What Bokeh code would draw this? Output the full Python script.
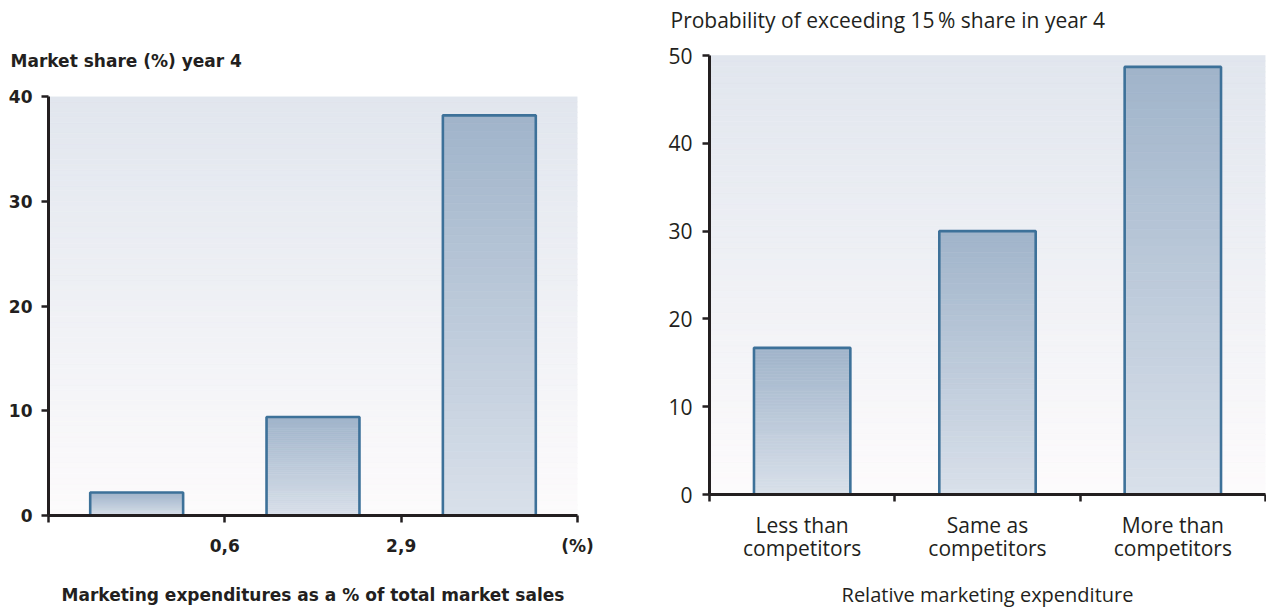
import numpy as np
from bokeh.plotting import figure
from bokeh.layouts import row, column
from bokeh.models import FixedTicker, Range1d
from bokeh.embed import file_html
from bokeh.resources import INLINE

# ---------------- data ----------------
left_tick_positions = [0, 1, 2, 3]
left_tick_labels = ["", "0,6", "2,9", "(%)"]
left_values = [2.2, 9.4, 38.2]
left_yticks = [0, 10, 20, 30, 40]

right_categories = ["Less than\ncompetitors", "Same as\ncompetitors", "More than\ncompetitors"]
right_values = [16.7, 30.0, 48.7]
right_yticks = [0, 10, 20, 30, 40, 50]

left_ylabel = "Market share (%) year 4"
left_xlabel = "Marketing expenditures as a % of total market sales"
right_ylabel = "Probability of exceeding 15\u2009% share in year 4"
right_xlabel = "Relative marketing expenditure"

# ---------------- style ----------------
INK = "#231f20"
BG_TOP, BG_BOT = "#e1e6ee", "#fdfbfc"
BAR_TOP, BAR_BOT = "#a0b4ca", "#d9e0ea"
BAR_LINE = "#3d7199"


def hex2rgb(h):
    h = h.lstrip("#")
    return np.array([int(h[i:i + 2], 16) for i in (0, 2, 4)], dtype=float)


def lerp(c_bot, c_top, t):
    a, b = hex2rgb(c_bot), hex2rgb(c_top)
    c = a + (b - a) * t
    return "#%02x%02x%02x" % tuple(int(round(v)) for v in c)


def gradient(p, x0, x1, y0, y1, c_top, c_bot, n=60):
    edges = np.linspace(y0, y1, n + 1)
    cols = [lerp(c_bot, c_top, (i + 0.5) / n) for i in range(n)]
    p.quad(left=[x0] * n, right=[x1] * n, bottom=edges[:-1], top=edges[1:],
           fill_color=cols, line_color=cols, line_width=0.6)


def bars(p, centers, values, width):
    for c, v in zip(centers, values):
        gradient(p, c - width / 2, c + width / 2, 0, v, BAR_TOP, BAR_BOT, n=50)
    p.vbar(x=centers, top=values, width=width, bottom=0, fill_alpha=0,
           line_color=BAR_LINE, line_width=2.6)


def style_axes(p, font, size, fstyle):
    for ax in (p.xaxis[0], p.yaxis[0]):
        ax.axis_line_color = INK
        ax.axis_line_width = 3
        ax.major_tick_line_color = INK
        ax.major_tick_line_width = 2.5
        ax.major_tick_out = 7
        ax.major_tick_in = 0
        ax.minor_tick_line_color = None
        ax.major_label_text_font = font
        ax.major_label_text_font_size = size
        ax.major_label_text_font_style = fstyle
        ax.major_label_text_color = INK
        ax.axis_label_text_font = font
        ax.axis_label_text_font_size = size
        ax.axis_label_text_font_style = fstyle
        ax.axis_label_text_color = INK
    p.xgrid.visible = False
    p.ygrid.visible = False
    p.outline_line_color = None
    p.background_fill_color = "white"
    p.border_fill_color = "white"
    p.title.text_font = font
    p.title.text_font_style = fstyle
    p.title.text_color = INK
    p.title.align = "left"


# ---------------- left chart ----------------
LF = "DejaVu Sans"
pl = figure(width=640, height=612, output_backend="svg", toolbar_location=None,
            x_range=Range1d(0, 3), y_range=Range1d(0, 40), title=left_ylabel,
            min_border_left=48, min_border_right=63, min_border_top=96, min_border_bottom=97)
style_axes(pl, LF, "17px", "bold")
pl.title.text_font_size = "17px"
pl.title.offset = -38
pl.title.standoff = 52
gradient(pl, 0, 3, 0, 40, BG_TOP, BG_BOT, n=80)
bars(pl, [0.5, 1.5, 2.5], left_values, 0.527)
pl.xaxis[0].ticker = FixedTicker(ticks=left_tick_positions)
pl.xaxis[0].major_label_overrides = {t: l for t, l in zip(left_tick_positions, left_tick_labels)}
pl.xaxis[0].major_label_standoff = 13
pl.xaxis[0].axis_label = left_xlabel
pl.xaxis[0].axis_label_standoff = 26
pl.yaxis[0].ticker = FixedTicker(ticks=left_yticks)
pl.yaxis[0].major_label_standoff = 9

# ---------------- right chart ----------------
RF = "Open Sans"
R_TOP = 50
# frame starts a little above the plotted area so the title can sit high;
# the axis line and background stop at R_TOP
frame_top, plot_top, frame_bottom = 36, 55, 494
r_end = R_TOP * (frame_bottom - frame_top) / (frame_bottom - plot_top)
pr = figure(width=626, height=612, output_backend="svg", toolbar_location=None,
            x_range=Range1d(0, 3), y_range=Range1d(0, r_end), title=right_ylabel,
            min_border_left=69, min_border_right=1, min_border_top=frame_top,
            min_border_bottom=612 - frame_bottom)
style_axes(pr, RF, "21px", "normal")
pr.title.text_font_size = "21px"
pr.title.offset = -39
pr.title.standoff = 6
gradient(pr, 0, 3, 0, R_TOP, BG_TOP, BG_BOT, n=80)
bars(pr, [0.5, 1.5, 2.5], right_values, 0.52)
pr.xaxis[0].ticker = FixedTicker(ticks=[0.5, 1.5, 2.5], minor_ticks=[0, 1, 2, 3])
pr.xaxis[0].major_label_overrides = {0.5: right_categories[0], 1.5: right_categories[1],
                                     2.5: right_categories[2]}
pr.xaxis[0].major_tick_line_color = None
pr.xaxis[0].minor_tick_line_color = INK
pr.xaxis[0].minor_tick_line_width = 2.5
pr.xaxis[0].minor_tick_out = 7
pr.xaxis[0].minor_tick_in = 0
pr.xaxis[0].major_label_standoff = 9
pr.xaxis[0].major_label_text_line_height = 0.85
pr.xaxis[0].axis_label = right_xlabel
pr.xaxis[0].axis_label_text_font_size = "20px"
pr.xaxis[0].axis_label_standoff = 16
pr.yaxis[0].ticker = FixedTicker(ticks=right_yticks)
pr.yaxis[0].bounds = (0, R_TOP)
pr.yaxis[0].major_label_standoff = 10

layout = row(column(pl), column(pr))
open("out.html", "w").write(file_html(layout, INLINE))
